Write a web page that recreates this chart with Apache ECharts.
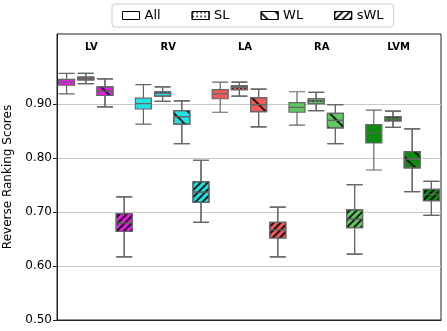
<!DOCTYPE html>
<html>
<head>
<meta charset="utf-8">
<script src="https://cdn.jsdelivr.net/npm/echarts@6/dist/echarts.min.js"></script>
<style>
  html, body { margin: 0; padding: 0; background: #fff; }
  #myChart { width: 447px; height: 331px; }
</style>
</head>
<body>
<div id="myChart"></div>
<script>
// chambers (groups) and training settings (series)
const groups = ['LV', 'RV', 'LA', 'RA', 'LVM'];
const methods = ['All', 'SL', 'WL', 'sWL'];
const groupColors = ['#e31be3', '#1fe3e3', '#f15a5a', '#5fc85f', '#0e8a0e'];

// [min, Q1, median, Q3, max] per group
const allScores = [
  [0.919, 0.935, 0.941, 0.946, 0.957],
  [0.863, 0.891, 0.901, 0.911, 0.936],
  [0.885, 0.910, 0.919, 0.927, 0.941],
  [0.861, 0.885, 0.894, 0.903, 0.923],
  [0.778, 0.828, 0.847, 0.862, 0.889]
];
const slScores = [
  [0.938, 0.945, 0.948, 0.950, 0.957],
  [0.905, 0.915, 0.920, 0.923, 0.932],
  [0.915, 0.927, 0.931, 0.934, 0.941],
  [0.888, 0.901, 0.906, 0.910, 0.922],
  [0.857, 0.869, 0.873, 0.877, 0.887]
];
const wlScores = [
  [0.895, 0.916, 0.924, 0.932, 0.947],
  [0.827, 0.863, 0.877, 0.888, 0.906],
  [0.858, 0.886, 0.899, 0.912, 0.928],
  [0.827, 0.856, 0.870, 0.883, 0.899],
  [0.738, 0.782, 0.798, 0.812, 0.854]
];
const swlScores = [
  [0.617, 0.664, 0.680, 0.697, 0.728],
  [0.681, 0.718, 0.737, 0.756, 0.796],
  [0.617, 0.652, 0.667, 0.681, 0.709],
  [0.622, 0.671, 0.687, 0.704, 0.751],
  [0.694, 0.721, 0.733, 0.742, 0.757]
];
const yTicks = [0.5, 0.6, 0.7, 0.8, 0.9];

const scoreSets = [allScores, slScores, wlScores, swlScores];

// hatch patterns, roughly like matplotlib's '', '...', '\\', '////'
const decals = [
  null,
  { symbol: 'circle', symbolSize: 1, dashArrayX: [1.6, 1.6], dashArrayY: [1.6, 1.6], color: 'rgba(0,0,0,0.85)' },
  { symbol: 'rect', symbolSize: 1, dashArrayX: [1, 0], dashArrayY: [1.2, 9], rotation: Math.PI / 4, color: 'rgba(0,0,0,0.85)' },
  { symbol: 'rect', symbolSize: 1, dashArrayX: [1, 0], dashArrayY: [1.1, 2.6], rotation: -Math.PI / 4, color: 'rgba(0,0,0,0.85)' }
];

const font = 'DejaVu Sans';
const slots = [];
for (let i = 0; i < groups.length * methods.length; i++) slots.push(String(i));

const myChart = echarts.init(document.getElementById('myChart'));

const xAxes = methods.map(function (m, i) {
  return {
    type: 'category',
    gridIndex: 0,
    position: 'bottom',
    data: slots,
    show: i === 0,
    axisLine: { show: i === 0, lineStyle: { color: '#222', width: 1 } },
    axisTick: { show: false },
    axisLabel: { show: false },
    splitLine: { show: false }
  };
});
// group names drawn inside the top of the plot
xAxes.push({
  type: 'category',
  gridIndex: 0,
  position: 'top',
  data: groups,
  axisLine: { show: false },
  axisTick: { show: false },
  splitLine: { show: false },
  axisLabel: {
    inside: true,
    margin: 8,
    padding: [0, 8, 0, 0],
    fontFamily: font,
    fontWeight: 'bold',
    fontSize: 10,
    color: '#000'
  }
});

const series = methods.map(function (m, mi) {
  const style = { color: '#fff', borderColor: '#666', borderWidth: 1.2 };
  if (decals[mi]) style.decal = decals[mi];
  return {
    name: m,
    type: 'boxplot',
    xAxisIndex: mi,
    boxWidth: [16, 16],
    encode: { x: 0, y: [1, 2, 3, 4, 5] },
    itemStyle: style,
    emphasis: { disabled: true },
    data: scoreSets[mi].map(function (v, gi) {
      return {
        value: [gi * methods.length + mi].concat(v),
        itemStyle: { color: groupColors[gi] }
      };
    })
  };
});

const option = {
  animation: false,
  legend: {
    left: 112,
    top: 4,
    icon: 'rect',
    itemWidth: 17,
    itemHeight: 8,
    itemGap: 31,
    padding: [5, 10],
    borderColor: '#ccc',
    borderWidth: 1,
    borderRadius: 3,
    textStyle: { fontFamily: font, fontSize: 13, color: '#000' },
    data: methods.map(function (m) {
      return { name: m, itemStyle: { color: '#fff', borderColor: '#000', borderWidth: 1 } };
    })
  },
  grid: {
    left: 57, right: 6, top: 34, bottom: 11,
    show: true,
    borderColor: '#222',
    borderWidth: 1,
    containLabel: false,
    outerBoundsMode: 'none'
  },
  xAxis: xAxes,
  yAxis: {
    type: 'value',
    min: 0.5,
    max: 1.03,
    interval: 0.1,
    name: 'Reverse Ranking Scores',
    nameLocation: 'middle',
    nameGap: 43,
    nameTextStyle: { fontFamily: font, fontSize: 12, color: '#000' },
    axisLine: { show: true, lineStyle: { color: '#222' } },
    axisTick: { show: true, length: 4, customValues: yTicks, lineStyle: { color: '#222' } },
    axisLabel: {
      fontFamily: font,
      fontSize: 12,
      color: '#000',
      margin: 5,
      customValues: yTicks,
      formatter: function (v) {
        return yTicks.some(function (t) { return Math.abs(t - v) < 1e-6; }) ? v.toFixed(2) : '';
      }
    },
    splitLine: {
      show: true,
      lineStyle: {
        color: ['rgba(0,0,0,0)', '#c8c8c8', '#c8c8c8', '#c8c8c8', '#c8c8c8', 'rgba(0,0,0,0)', 'rgba(0,0,0,0)'],
        width: 1.2
      }
    }
  },
  series: series
};

myChart.setOption(option);
</script>
</body>
</html>
